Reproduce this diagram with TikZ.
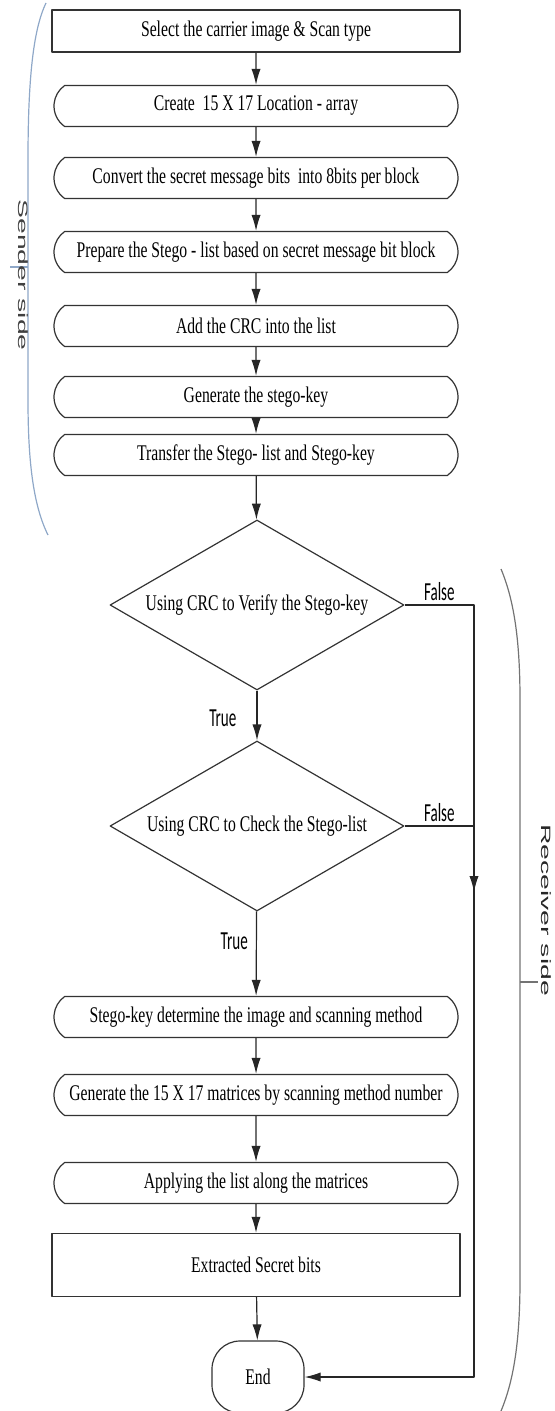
\documentclass[tikz,border=0pt]{standalone}
\usepackage{fontspec}
\setmainfont{Liberation Serif}
\newfontfamily\boxfont{Liberation Serif}[FakeStretch=0.7]
\newfontfamily\tagfont{Carlito}[FakeStretch=0.58]
\newfontfamily\sidefont{Liberation Sans}
\usetikzlibrary{shapes.geometric,shapes.misc,arrows.meta}
\definecolor{sendblue}{HTML}{8FA8C8}
\definecolor{sidegray}{HTML}{404040}

\begin{document}
\begin{tikzpicture}[x=0.5pt, y=-0.5pt,
    line join=round,
    every node/.style={font=\boxfont\fontsize{11.2}{13}\selectfont, text=black},
    stepbox/.style={draw=black!80, line width=0.7pt, rectangle,
      minimum width=204pt, minimum height=21pt, inner sep=1pt},
    roundbox/.style={draw=black!80, line width=0.6pt, rounded rectangle,
      rounded rectangle arc length=110,
      minimum width=204pt, minimum height=20.5pt, inner sep=1pt},
    testbox/.style={draw=black!80, line width=0.6pt, diamond, aspect=1.73,
      minimum width=147pt, minimum height=85pt, inner sep=0pt},
    stopbox/.style={draw=black!80, line width=0.6pt, rectangle,
      rounded corners=14pt, minimum width=46pt, minimum height=36pt},
    arr/.style={-{Latex[length=8pt,width=4.6pt]}, draw=black!85, line width=0.6pt},
    tag/.style={font=\tagfont\fontsize{13}{15}\selectfont, inner sep=1pt},
    side/.style={font=\sidefont\fontsize{6.75}{8}\selectfont, rotate=-90, inner sep=0pt}
  ]
  \useasboundingbox (0,0) rectangle (555,1411);

  % sender side
  \node[stepbox]  (select)   at (256,31)  {Select the carrier image \& Scan type};
  \node[roundbox] (create)   at (256,106) {Create \ 15 X 17 Location - array};
  \node[roundbox] (convert)  at (256,178) {Convert the secret message bits \ into 8bits per block};
  \node[roundbox] (prepare)  at (256,252) {Prepare the Stego - list based on secret message bit block};
  \node[roundbox] (addcrc)   at (256,326) {Add the CRC into the list};
  \node[roundbox] (genkey)   at (256,397) {Generate the stego-key};
  \node[roundbox] (transfer) at (256,455) {Transfer the Stego- list and Stego-key};

  % receiver side
  \node[testbox]  (verify)   at (257,605) {Using CRC to Verify the Stego-key};
  \node[testbox]  (check)    at (257,826) {Using CRC to Check the Stego-list};
  \node[roundbox] (keyimg)   at (256,1017) {Stego-key determine the image and scanning method};
  \node[roundbox] (genmat)   at (256,1095) {Generate the 15 X 17 matrices by scanning method number};
  \node[roundbox] (apply)    at (256,1183) {Applying the list along the matrices};
  \node[stepbox, minimum height=31.5pt] (extract) at (256,1265) {Extracted Secret bits};
  \node[stopbox]  (stop)     at (258,1377) {End};

  \coordinate (falsex) at (474,0);
  \coordinate (falsemid) at (474,892);

  % main flow
  \draw[arr] (select) -- (create);
  \draw[arr] (create) -- (convert);
  \draw[arr] (convert) -- (prepare);
  \draw[arr] (prepare) -- (addcrc);
  \draw[arr] (addcrc) -- (genkey);
  \draw[arr] (genkey) -- (transfer);
  \draw[arr] (transfer) -- (verify);
  \draw[arr] (verify) -- node[tag, left=9pt, pos=0.55] {True} (check);
  \draw[arr] (check) -- node[tag, left=3pt, pos=0.35] {True} (keyimg);
  \draw[arr] (keyimg) -- (genmat);
  \draw[arr] (genmat) -- (apply);
  \draw[arr] (apply) -- (extract);
  \draw[arr] (extract) -- (stop);

  % false branches
  \draw[arr] (verify.east) -- node[tag, above=1pt] {False} (verify.east -| falsex)
    |- (stop.east);
  \draw[draw=black!85, line width=0.6pt] (check.east) -- node[tag, above=1pt] {False} (check.east -| falsex);
  \draw[arr] (check.east -| falsex) -- (falsemid);

  % side braces
  \draw[sendblue, line width=0.6pt] (46,3) .. controls (33,30) and (28,80) .. (28,160)
    -- (28,400) .. controls (28,460) and (33,505) .. (48,535);
  \draw[sendblue, line width=0.6pt] (28,267) -- (10,267);
  \node[side, text=sidegray] (sender) at (23,275) {\scalebox{2.1}[1]{Sender side}};

  \draw[black!55, line width=0.6pt] (501,569) .. controls (514,600) and (520,640) .. (520,700)
    -- (520,1280) .. controls (520,1340) and (514,1380) .. (501,1411);
  \draw[black!55, line width=1pt] (520,982) -- (538,982);
  \node[side, text=black!85] (receiver) at (546,910) {\scalebox{2.1}[1]{Receiver side}};
\end{tikzpicture}
\end{document}
